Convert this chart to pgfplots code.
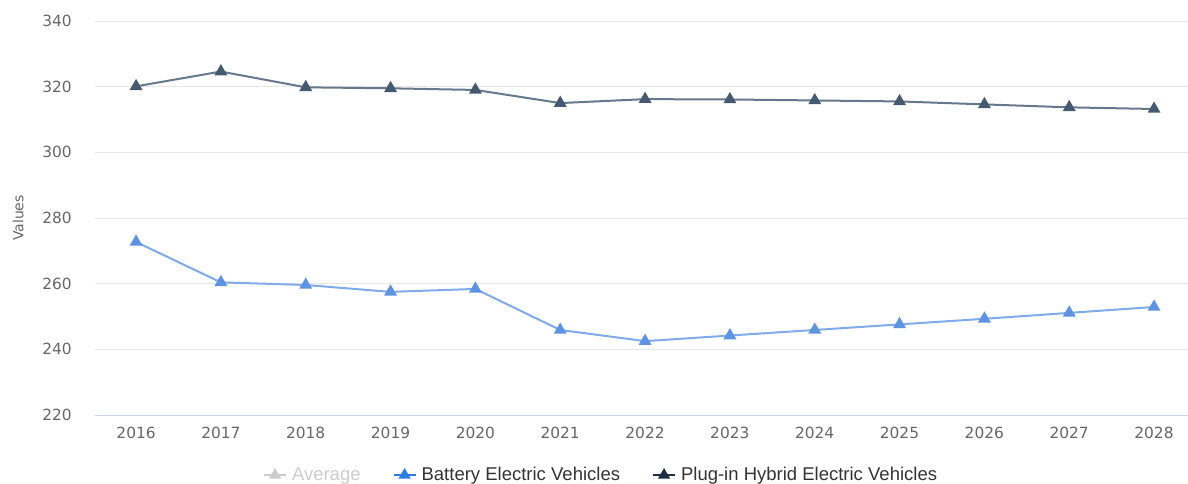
\documentclass[border=0pt]{standalone}
\usepackage{pgfplots}
\pgfplotsset{compat=1.18}
\usepackage{fontspec}
\setmainfont{DejaVu Sans}
\newfontfamily\legfont{Liberation Sans}
\definecolor{phevline}{HTML}{66788C}
\definecolor{phevmark}{HTML}{45596F}
\definecolor{phevleg}{HTML}{1C2F45}
\definecolor{bevline}{HTML}{80ABEB}
\definecolor{bevmark}{HTML}{5E93E2}
\definecolor{bevleg}{HTML}{2B7DE0}
\definecolor{avgleg}{HTML}{CCCCCC}
\definecolor{tickgray}{HTML}{666666}
\definecolor{textdark}{HTML}{333333}
\definecolor{gridgray}{HTML}{E6E6E6}
\definecolor{axisblue}{HTML}{CCD6EB}
\begin{document}
\begin{tikzpicture}
\path[use as bounding box] (-95pt,-69pt) rectangle (1093pt,415pt);
\begin{axis}[
  scale only axis, width=1093pt, height=394pt,
  xmin=2015.516, xmax=2028.4, ymin=220, ymax=340,
  xtick={2016,2017,...,2028}, ytick={220,240,...,340},
  /pgf/number format/assume math mode=true,
  /pgf/number format/1000 sep={},
  axis line style={draw=none}, tick style={draw=none},
  ymajorgrids, grid style={gridgray, line width=0.8pt},
  ticklabel style={font=\fontsize{15.4}{17}\selectfont, text=tickgray},
  yticklabel style={anchor=east, inner sep=0pt, xshift=-23pt},
  xticklabel style={anchor=center, inner sep=0pt, yshift=-18pt},
  ylabel={Values},
  every axis y label/.style={at={(axis description cs:-0.0704,0.5)}, rotate=90, anchor=center, font=\fontsize{14}{16}\selectfont, text=tickgray},
  legend style={at={(axis description cs:0.463,-0.1523)}, anchor=center, draw=none, fill=none,
    font=\legfont\fontsize{18.5}{20}\selectfont, text=textdark,
    /tikz/every odd column/.append style={column sep=3pt},
    /tikz/every even column/.append style={column sep=30pt}},
  legend columns=-1,
  legend cell align=left,
  legend image code/.code={
    \draw[#1, mark=none] (0pt,0pt) -- (22pt,0pt);
    \draw[#1, only marks] plot coordinates {(11pt,0pt)};
  },
]
\draw[axisblue, line width=0.8pt] (rel axis cs:0,0) -- (rel axis cs:1,0);
\addplot[phevline, line width=2pt, mark=triangle*, mark size=5.5pt, mark options={phevmark, solid}, forget plot] coordinates {
(2016,320.1) (2017,324.6) (2018,319.8) (2019,319.5) (2020,319.0) (2021,315.0)
(2022,316.2) (2023,316.1) (2024,315.8) (2025,315.5) (2026,314.6) (2027,313.7) (2028,313.2)};
\addplot[bevline, line width=2pt, mark=triangle*, mark size=5.5pt, mark options={bevmark, solid}, forget plot] coordinates {
(2016,272.7) (2017,260.4) (2018,259.6) (2019,257.5) (2020,258.4) (2021,245.9)
(2022,242.5) (2023,244.2) (2024,245.9) (2025,247.6) (2026,249.3) (2027,251.1) (2028,252.9)};
\addlegendimage{avgleg, line width=2pt, mark=triangle*, mark size=5pt}
\addlegendentry{\textcolor{avgleg}{Average}}
\addlegendimage{bevleg, line width=2pt, mark=triangle*, mark size=5pt}
\addlegendentry{Battery Electric Vehicles}
\addlegendimage{phevleg, line width=2pt, mark=triangle*, mark size=5pt}
\addlegendentry{Plug-in Hybrid Electric Vehicles}
\end{axis}
\end{tikzpicture}
\end{document}
